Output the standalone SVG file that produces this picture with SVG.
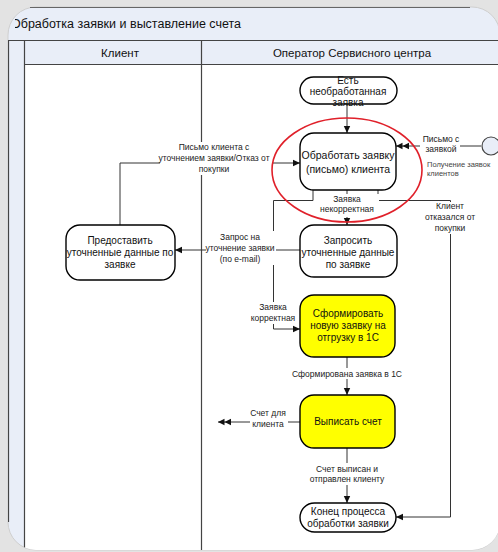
<svg xmlns="http://www.w3.org/2000/svg" width="498" height="552" viewBox="0 0 498 552">
<style>
text{font-family:"Liberation Sans",Arial,sans-serif;fill:#111}
.t{font-size:10px;text-anchor:middle}
.lb{font-size:8.5px;text-anchor:middle;fill:#222}
.sm{font-size:7.5px;fill:#444}
.hd{font-size:11.5px;text-anchor:middle}
.n{fill:#fff;stroke:#000;stroke-width:1.4}
.y{fill:#ffff00;stroke:#000;stroke-width:1.4}
.c{fill:none;stroke:#333;stroke-width:1}
.bg{fill:#fff}
.ln{stroke:#444;stroke-width:1.2}
</style>
<defs>
<marker id="ar" markerWidth="8" markerHeight="8" refX="7" refY="4" orient="auto" markerUnits="userSpaceOnUse">
<path d="M0,0.8 L7,4 L0,7.2 Z" fill="#111"/>
</marker>
<marker id="ar2" markerWidth="14" markerHeight="8" refX="13" refY="4" orient="auto" markerUnits="userSpaceOnUse">
<path d="M0,0.8 L6.5,4 L0,7.2 Z M6.5,0.8 L13,4 L6.5,7.2 Z" fill="#111"/>
</marker>
<clipPath id="pc"><rect x="8" y="7" width="492" height="543" rx="28"/></clipPath>
<clipPath id="tc"><rect x="15" y="10" width="400" height="25"/></clipPath>
</defs>
<rect width="498" height="552" fill="#e3e3e3"/>
<rect x="8" y="7" width="492" height="543" rx="28" fill="#e9eef8" stroke="#cfcfcf"/>
<path d="M30,7.5 H470" stroke="#666" stroke-width="1.2"/>
<g clip-path="url(#pc)">
<text x="11" y="28" clip-path="url(#tc)" style="font-size:12.5px">Обработка заявки и выставление счета</text>
<rect x="24" y="64" width="474" height="490" fill="#fff"/>
<g id="pool">
<path d="M8.5,40 V522" class="ln" stroke="#666"/>
<path d="M8,40.5 H498 M24,64.5 H498 M24.5,40 V552" class="ln"/>
<path d="M201.5,40 V552" class="ln"/>
<text class="hd" x="120" y="57">Клиент</text>
<text class="hd" x="352" y="57">Оператор Сервисного центра</text>
</g>
</g>
<g id="connectors">
<path class="c" d="M347,104 V133" marker-end="url(#ar)"/>
<path class="c" d="M481,146 H396" marker-end="url(#ar2)"/>
<path class="c" d="M120,225 V163 H300" marker-end="url(#ar)"/>
<path class="c" d="M347,190 V225" marker-end="url(#ar)"/>
<path class="c" d="M313,190 V200.5 H273.5 V329 H300" marker-end="url(#ar)"/>
<path class="c" d="M378,190 V200.5 H450.5 V517 H396" marker-end="url(#ar)"/>
<path class="c" d="M300,250 H175" marker-end="url(#ar)"/>
<path class="c" d="M347,357 V395" marker-end="url(#ar)"/>
<path class="c" d="M300,422 H218" marker-end="url(#ar2)"/>
<path class="c" d="M347,448 V503" marker-end="url(#ar)"/>
</g>
<g id="labels">
<rect class="bg" x="160" y="142" width="112" height="33"/>
<text class="lb" x="214" y="150">Письмо клиента с</text>
<text class="lb" x="214" y="161">уточнением заявки/Отказ от</text>
<text class="lb" x="214" y="172">покупки</text>
<rect class="bg" x="420" y="135" width="40" height="20"/>
<text class="lb" x="441" y="142">Письмо с</text>
<text class="lb" x="441" y="152">заявкой</text>
<text class="sm" x="427" y="167">Получение заявок</text>
<text class="sm" x="427" y="176">клиентов</text>
<rect class="bg" x="315" y="194" width="64" height="23"/>
<text class="lb" x="347" y="202">Заявка</text>
<text class="lb" x="347" y="212">некорректная</text>
<rect class="bg" x="424" y="202" width="52" height="32"/>
<text class="lb" x="450" y="209">Клиент</text>
<text class="lb" x="450" y="220">отказался от</text>
<text class="lb" x="450" y="231">покупки</text>
<rect class="bg" x="206" y="231" width="70" height="34"/>
<text class="lb" x="240" y="240">Запрос на</text>
<text class="lb" x="240" y="251">уточнение заявки</text>
<text class="lb" x="240" y="262">(по e-mail)</text>
<rect class="bg" x="246" y="302" width="52" height="22"/>
<text class="lb" x="273" y="310">Заявка</text>
<text class="lb" x="273" y="321">корректная</text>
<rect class="bg" x="292" y="368" width="110" height="11"/>
<text class="lb" x="347" y="377">Сформирована заявка в 1С</text>
<rect class="bg" x="250" y="408" width="38" height="22"/>
<text class="lb" x="268" y="416">Счет для</text>
<text class="lb" x="268" y="427">клиента</text>
<rect class="bg" x="304" y="463" width="86" height="22"/>
<text class="lb" x="347" y="472">Счет выписан и</text>
<text class="lb" x="347" y="482">отправлен клиенту</text>
</g>
<g id="start">
<rect class="n" x="300" y="77" width="97" height="27" rx="13.5"/>
<text class="t" x="348" y="84">Есть</text>
<text class="t" x="348" y="95">необработанная</text>
<text class="t" x="348" y="106">заявка</text>
</g>
<g id="process">
<rect class="n" x="300" y="133" width="96" height="57" rx="14"/>
<text class="t" x="348" y="159" style="font-size:10.5px">Обработать заявку</text>
<text class="t" x="348" y="173" style="font-size:10.5px">(письмо) клиента</text>
</g>
<g id="source">
<circle cx="491" cy="146" r="9" fill="#e9eef8" stroke="#444" stroke-width="1.2"/>
</g>
<g id="provide">
<rect class="n" x="66" y="225" width="109" height="55" rx="14"/>
<text class="t" x="120" y="244">Предоставить</text>
<text class="t" x="120" y="256">уточненные данные по</text>
<text class="t" x="120" y="268">заявке</text>
</g>
<g id="request">
<rect class="n" x="300" y="225" width="97" height="52" rx="14"/>
<text class="t" x="348" y="244">Запросить</text>
<text class="t" x="348" y="256">уточненные данные</text>
<text class="t" x="348" y="268">по заявке</text>
</g>
<g id="create">
<rect class="y" x="300" y="295" width="95" height="62" rx="14"/>
<text class="t" x="348" y="317">Сформировать</text>
<text class="t" x="348" y="329">новую заявку на</text>
<text class="t" x="348" y="341">отгрузку в 1С</text>
</g>
<g id="invoice">
<rect class="y" x="300" y="395" width="95" height="53" rx="14"/>
<text class="t" x="348" y="425">Выписать счет</text>
</g>
<g id="end">
<rect class="n" x="300" y="503" width="96" height="29" rx="14.5"/>
<text class="t" x="348" y="515">Конец процесса</text>
<text class="t" x="348" y="527">обработки заявки</text>
</g>
<ellipse cx="347" cy="170" rx="75" ry="52" fill="none" stroke="#e0202a" stroke-width="1.6"/>
</svg>
